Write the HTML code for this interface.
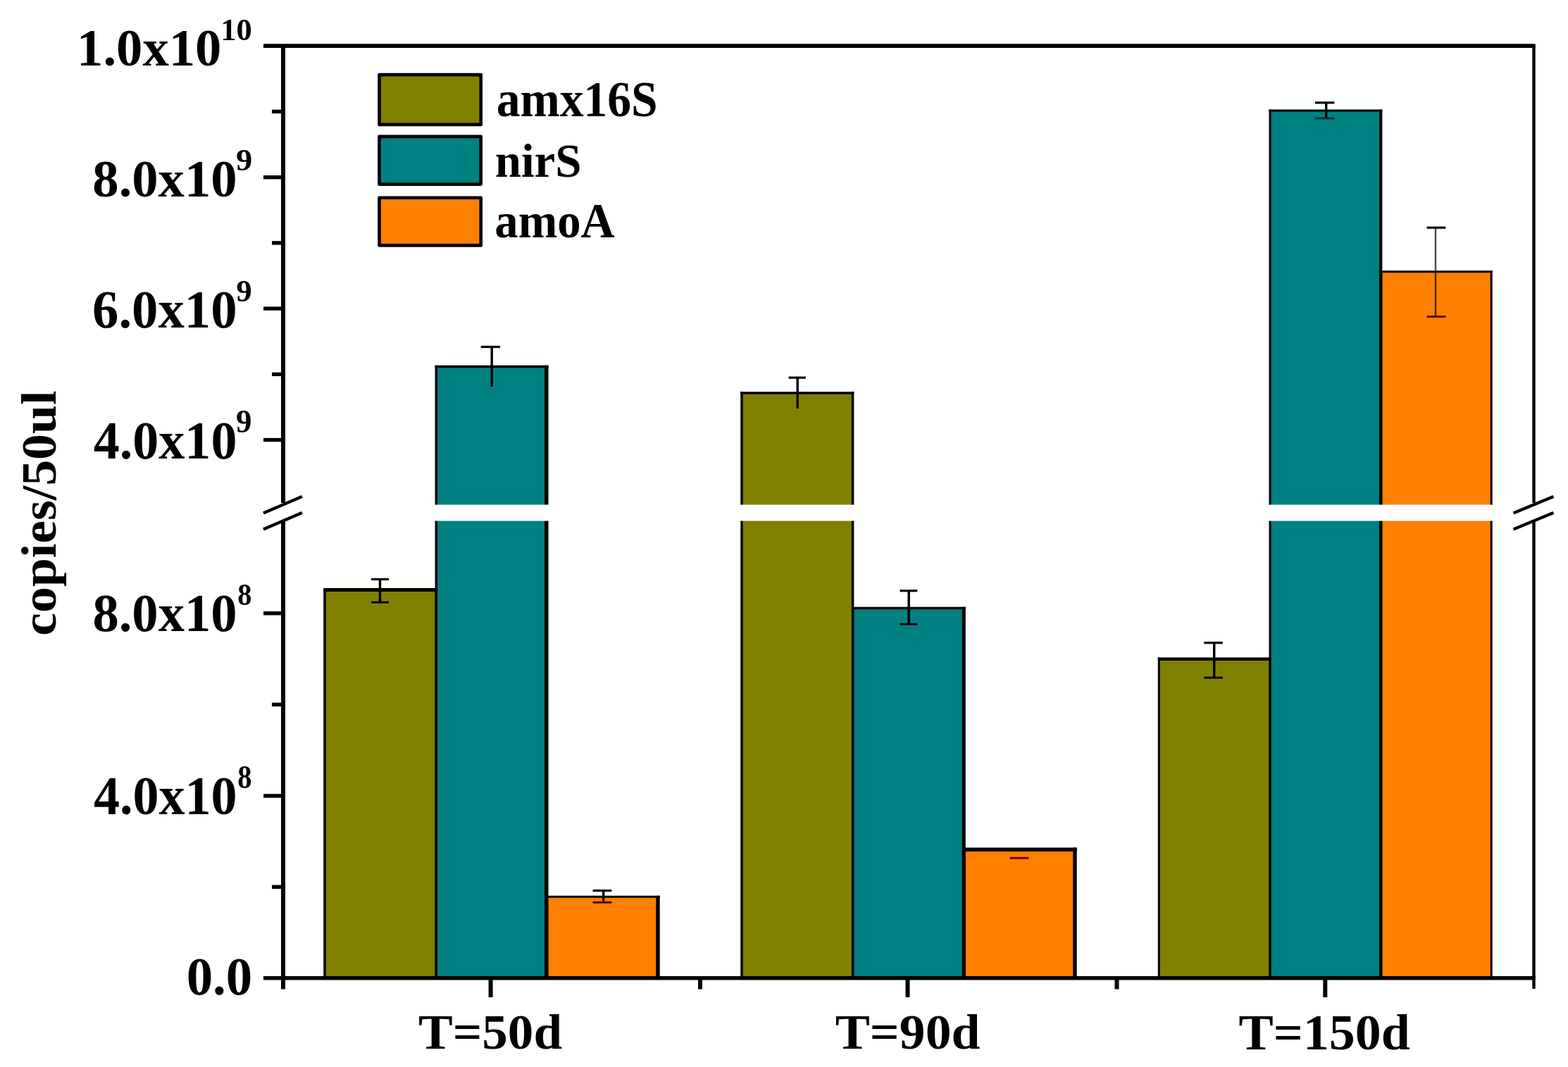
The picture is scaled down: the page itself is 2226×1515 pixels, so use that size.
<!DOCTYPE html>
<html lang="en"><head><meta charset="utf-8"><title>Gene copies bar chart</title>
<style>html,body{margin:0;padding:0;background:#fff;}body{width:2226px;height:1515px;overflow:hidden;}svg{display:block;}text{font-family:"Liberation Serif",serif;font-weight:bold;fill:#000;}</style>
</head><body>
<svg width="2226" height="1515" viewBox="0 0 2226 1515">
<defs><filter id="soft" filterUnits="userSpaceOnUse" x="0" y="0" width="2226" height="1515" color-interpolation-filters="sRGB"><feGaussianBlur stdDeviation="0.75"/></filter></defs>
<rect x="0" y="0" width="2226" height="1515" fill="#fff"/>
<g id="chart" filter="url(#soft)">
<rect x="0" y="0" width="2226" height="1515" fill="#fff"/>
<g id="bars">
<rect x="461.0" y="837.5" width="158.3" height="551.2" fill="#808000"/>
<rect x="619.3" y="520.6" width="156.5" height="868.1" fill="#008080"/>
<rect x="775.8" y="1273.3" width="158.2" height="115.4" fill="#ff8000"/>
<rect x="1053.0" y="558.1" width="157.6" height="830.6" fill="#808000"/>
<rect x="1210.6" y="863.6" width="157.7" height="525.1" fill="#008080"/>
<rect x="1368.3" y="1206.2" width="157.7" height="182.5" fill="#ff8000"/>
<rect x="1645.3" y="935.7" width="157.7" height="453.0" fill="#808000"/>
<rect x="1803.0" y="156.9" width="157.2" height="1231.8" fill="#008080"/>
<rect x="1960.2" y="385.8" width="157.0" height="1002.9" fill="#ff8000"/>
<line x1="461.0" y1="835.00" x2="461.0" y2="1388.7" stroke="#000" stroke-width="3.5"/>
<line x1="619.3" y1="835.00" x2="619.3" y2="1388.7" stroke="#000" stroke-width="3.5"/>
<line x1="459.25" y1="837.5" x2="621.05" y2="837.5" stroke="#000" stroke-width="5"/>
<line x1="619.3" y1="518.85" x2="619.3" y2="1388.7" stroke="#000" stroke-width="3.5"/>
<line x1="775.8" y1="518.85" x2="775.8" y2="1388.7" stroke="#000" stroke-width="5.5"/>
<line x1="617.55" y1="520.6" x2="778.55" y2="520.6" stroke="#000" stroke-width="3.5"/>
<line x1="775.8" y1="1271.80" x2="775.8" y2="1388.7" stroke="#000" stroke-width="4.5"/>
<line x1="934.0" y1="1271.80" x2="934.0" y2="1388.7" stroke="#000" stroke-width="5.4"/>
<line x1="773.55" y1="1273.3" x2="936.70" y2="1273.3" stroke="#000" stroke-width="3"/>
<line x1="1053.0" y1="556.35" x2="1053.0" y2="1388.7" stroke="#000" stroke-width="3.5"/>
<line x1="1210.6" y1="556.35" x2="1210.6" y2="1388.7" stroke="#000" stroke-width="3.5"/>
<line x1="1051.25" y1="558.1" x2="1212.35" y2="558.1" stroke="#000" stroke-width="3.5"/>
<line x1="1210.6" y1="861.85" x2="1210.6" y2="1388.7" stroke="#000" stroke-width="3.2"/>
<line x1="1368.3" y1="861.85" x2="1368.3" y2="1388.7" stroke="#000" stroke-width="5"/>
<line x1="1209.00" y1="863.6" x2="1370.80" y2="863.6" stroke="#000" stroke-width="3.5"/>
<line x1="1368.3" y1="1203.50" x2="1368.3" y2="1388.7" stroke="#000" stroke-width="5"/>
<line x1="1526.0" y1="1203.50" x2="1526.0" y2="1388.7" stroke="#000" stroke-width="5.4"/>
<line x1="1365.80" y1="1206.2" x2="1528.70" y2="1206.2" stroke="#000" stroke-width="5.4"/>
<line x1="1645.3" y1="933.40" x2="1645.3" y2="1388.7" stroke="#000" stroke-width="3"/>
<line x1="1803.0" y1="933.40" x2="1803.0" y2="1388.7" stroke="#000" stroke-width="3"/>
<line x1="1643.80" y1="935.7" x2="1804.50" y2="935.7" stroke="#000" stroke-width="4.6"/>
<line x1="1803.0" y1="155.40" x2="1803.0" y2="1388.7" stroke="#000" stroke-width="3"/>
<line x1="1960.2" y1="155.40" x2="1960.2" y2="1388.7" stroke="#000" stroke-width="4.2"/>
<line x1="1801.50" y1="156.9" x2="1962.30" y2="156.9" stroke="#000" stroke-width="3"/>
<line x1="1960.2" y1="384.30" x2="1960.2" y2="1388.7" stroke="#000" stroke-width="4.5"/>
<line x1="2117.2" y1="384.30" x2="2117.2" y2="1388.7" stroke="#000" stroke-width="3"/>
<line x1="1957.95" y1="385.8" x2="2118.70" y2="385.8" stroke="#000" stroke-width="3"/>
</g>
<g id="errorbars">
<line x1="539.5" y1="822.5" x2="539.5" y2="855.2" stroke="#000" stroke-width="3.4"/>
<line x1="527" y1="822.5" x2="552" y2="822.5" stroke="#000" stroke-width="3.2"/>
<line x1="527" y1="855.2" x2="552" y2="855.2" stroke="#000" stroke-width="2.9000000000000004"/>
<line x1="698.2" y1="492.5" x2="698.2" y2="549" stroke="#000" stroke-width="3.4"/>
<line x1="682.7" y1="492.5" x2="710" y2="492.5" stroke="#000" stroke-width="3.2"/>
<line x1="856.7" y1="1264.6" x2="856.7" y2="1281.3" stroke="#000" stroke-width="3.4"/>
<line x1="841.6" y1="1264.6" x2="868.3" y2="1264.6" stroke="#000" stroke-width="3.2"/>
<line x1="841.6" y1="1281.3" x2="868.3" y2="1281.3" stroke="#500000" stroke-width="2.9000000000000004"/>
<line x1="1132.2" y1="536.2" x2="1132.2" y2="580" stroke="#000" stroke-width="3.4"/>
<line x1="1119.6" y1="536.2" x2="1143.9" y2="536.2" stroke="#000" stroke-width="3.2"/>
<line x1="1290.2" y1="838.8" x2="1290.2" y2="886.2" stroke="#000" stroke-width="3.4"/>
<line x1="1277.6" y1="838.8" x2="1302.4" y2="838.8" stroke="#000" stroke-width="3.2"/>
<line x1="1277.6" y1="886.2" x2="1302.4" y2="886.2" stroke="#000" stroke-width="2.9000000000000004"/>
<line x1="1433.6" y1="1218.3" x2="1460.3" y2="1218.3" stroke="#700000" stroke-width="3"/>
<line x1="1723.7" y1="912.7" x2="1723.7" y2="962.2" stroke="#000" stroke-width="3.4"/>
<line x1="1709.1" y1="912.7" x2="1735.8" y2="912.7" stroke="#000" stroke-width="3.2"/>
<line x1="1709.1" y1="962.2" x2="1735.8" y2="962.2" stroke="#000" stroke-width="2.9000000000000004"/>
<line x1="1882.7" y1="145.8" x2="1882.7" y2="168" stroke="#000" stroke-width="3.4"/>
<line x1="1867" y1="145.8" x2="1894.4" y2="145.8" stroke="#000" stroke-width="3.2"/>
<line x1="1867" y1="168" x2="1894.4" y2="168" stroke="#003030" stroke-width="2.9000000000000004"/>
<line x1="2038" y1="323.2" x2="2038" y2="449.6" stroke="#000" stroke-opacity="0.72" stroke-width="2.4"/>
<line x1="2025.6" y1="323.2" x2="2052.4" y2="323.2" stroke="#000" stroke-width="3.2"/>
<line x1="2025.6" y1="449.6" x2="2052.4" y2="449.6" stroke="#600000" stroke-width="2.9000000000000004"/>
</g>
<rect x="405" y="716.6" width="1770" height="23" fill="#fff"/>
<g id="axes" stroke="#000" fill="none">
<line x1="374" y1="65.2" x2="2179.7" y2="65.2" stroke-width="5.8"/>
<line x1="374" y1="1388.7" x2="2179.7" y2="1388.7" stroke-width="5.6"/>
<line x1="402.0" y1="65.2" x2="402.0" y2="714" stroke-width="6"/>
<line x1="402.0" y1="740" x2="402.0" y2="1404.5" stroke-width="6"/>
<line x1="2177.5" y1="65.2" x2="2177.5" y2="714" stroke-width="4.4"/>
<line x1="2177.5" y1="741" x2="2177.5" y2="1404" stroke-width="4.4"/>
<line x1="374" y1="251.7" x2="402.0" y2="251.7" stroke-width="5.4"/>
<line x1="374" y1="438.1" x2="402.0" y2="438.1" stroke-width="5.4"/>
<line x1="374" y1="624.6" x2="402.0" y2="624.6" stroke-width="5.4"/>
<line x1="374" y1="870.8" x2="402.0" y2="870.8" stroke-width="5.4"/>
<line x1="374" y1="1130.0" x2="402.0" y2="1130.0" stroke-width="5.4"/>
<line x1="386" y1="158.4" x2="402.0" y2="158.4" stroke-width="5.4"/>
<line x1="386" y1="344.9" x2="402.0" y2="344.9" stroke-width="5.4"/>
<line x1="386" y1="531.4" x2="402.0" y2="531.4" stroke-width="5.4"/>
<line x1="386" y1="1000.4" x2="402.0" y2="1000.4" stroke-width="5.4"/>
<line x1="386" y1="1259.3" x2="402.0" y2="1259.3" stroke-width="5.4"/>
<line x1="696.6" y1="1388.7" x2="696.6" y2="1416" stroke-width="6"/>
<line x1="1288.5" y1="1388.7" x2="1288.5" y2="1416" stroke-width="6"/>
<line x1="1881.3" y1="1388.7" x2="1881.3" y2="1416" stroke-width="6"/>
<line x1="994.0" y1="1388.7" x2="994.0" y2="1404.5" stroke-width="6"/>
<line x1="1585.5" y1="1388.7" x2="1585.5" y2="1404.5" stroke-width="6"/>
<line x1="374.0" y1="728.4" x2="428.79999999999995" y2="704.9" stroke-width="4.3" stroke-linecap="butt"/>
<line x1="374.0" y1="751.4" x2="428.79999999999995" y2="727.9" stroke-width="4.3" stroke-linecap="butt"/>
<line x1="2148.6" y1="728.4" x2="2205.4" y2="704.9" stroke-width="4.3" stroke-linecap="butt"/>
<line x1="2148.6" y1="751.4" x2="2205.4" y2="727.9" stroke-width="4.3" stroke-linecap="butt"/>
</g>
<g id="legend">
<rect x="538.5" y="106.1" width="144.2" height="70.8" fill="#808000" stroke="#000" stroke-width="4.6" stroke-linejoin="round"/>
<rect x="538.5" y="193.9" width="144.2" height="67.7" fill="#008080" stroke="#000" stroke-width="4.6" stroke-linejoin="round"/>
<rect x="538.5" y="280.7" width="144.2" height="67.7" fill="#ff8000" stroke="#000" stroke-width="4.6" stroke-linejoin="round"/>
</g>
<g id="labels">
<text transform="translate(109.08 92.95) scale(1.0369 1.0214)" font-size="72">1.0x10</text>
<text transform="translate(131.36 279.07) scale(1.0364 1.0290)" font-size="72">8.0x10</text>
<text transform="translate(131.10 464.57) scale(1.0375 1.0482)" font-size="72">6.0x10</text>
<text transform="translate(132.77 650.55) scale(1.0288 1.0710)" font-size="72">4.0x10</text>
<text transform="translate(131.44 896.41) scale(1.0358 1.0646)" font-size="72">8.0x10</text>
<text transform="translate(133.09 1156.00) scale(1.0279 1.0834)" font-size="72">4.0x10</text>
<text transform="translate(264.72 1412.21) scale(1.0390 1.0703)" font-size="72">0.0</text>
<text transform="translate(313.35 56.93) scale(1.0341 1.0252)" font-size="43">10</text>
<text transform="translate(335.10 242.48) scale(1.0815 1.0370)" font-size="43">9</text>
<text transform="translate(335.14 428.44) scale(1.0440 1.0517)" font-size="43">9</text>
<text transform="translate(335.12 613.83) scale(1.0448 1.0763)" font-size="43">9</text>
<text transform="translate(337.19 859.33) scale(0.9400 1.0406)" font-size="43">8</text>
<text transform="translate(337.24 1119.10) scale(0.9396 1.0639)" font-size="43">8</text>
<text transform="translate(593.99 1489.22) scale(1.0148 0.9725)" font-size="72">T=50d</text>
<text transform="translate(1185.64 1489.21) scale(1.0243 0.9725)" font-size="72">T=90d</text>
<text transform="translate(1758.62 1489.51) scale(1.0258 0.9842)" font-size="72">T=150d</text>
<text transform="translate(704.64 165.08) scale(0.9388 0.9896)" font-size="72">amx16S</text>
<text transform="translate(702.78 251.32) scale(0.9290 0.9390)" font-size="72">nirS</text>
<text transform="translate(702.33 336.63) scale(0.9266 0.9834)" font-size="72">amoA</text>
<text transform="translate(79.08 902.75) rotate(-90) scale(1.0238 0.9708)" font-size="72">copies/50ul</text>
</g>
</g>
</svg>
</body></html>
